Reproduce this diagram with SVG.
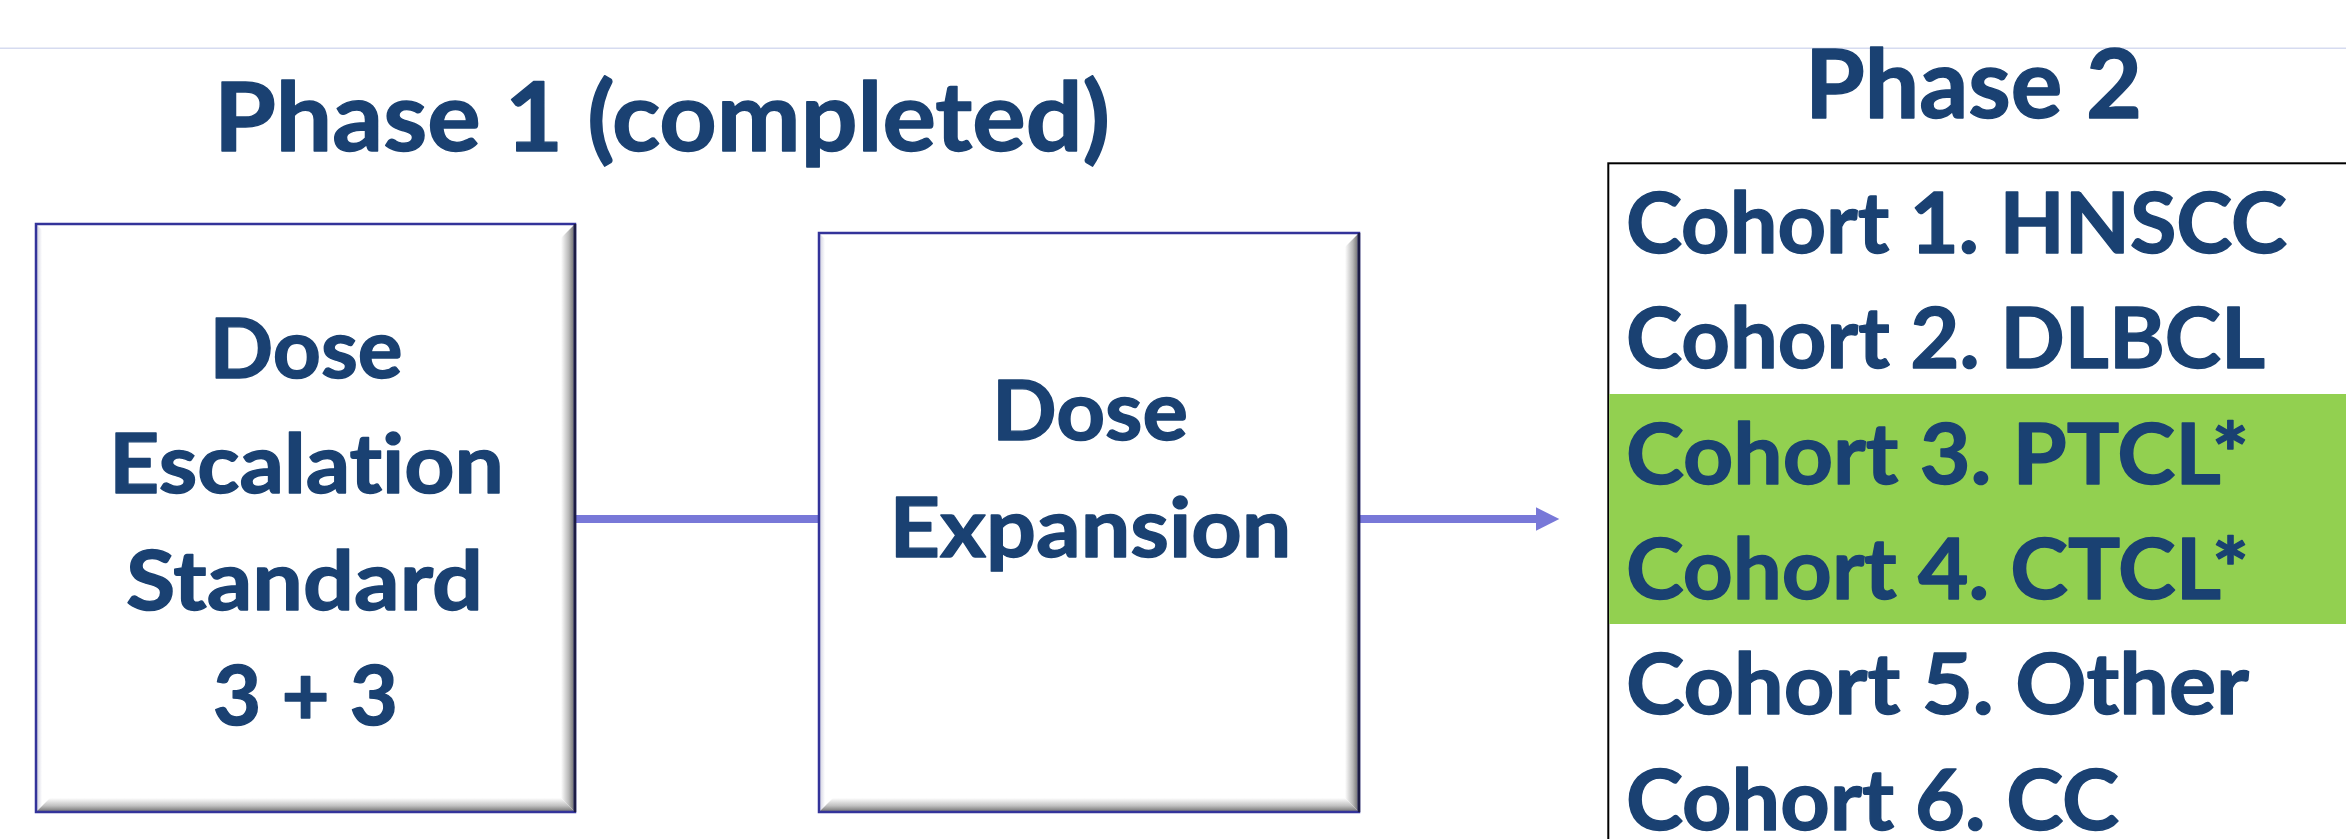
<svg xmlns="http://www.w3.org/2000/svg" width="2346" height="839" viewBox="0 0 2346 839">
<style>
  .t { font-family: Lato, "Liberation Sans", sans-serif; font-weight: 700; fill: #1a4172; stroke: #1a4172; stroke-width: 1.4; stroke-linejoin: round; font-variant-ligatures: none; font-feature-settings: "liga" 0, "clig" 0; }
  .title { font-size: 95px; }
  .box-text { font-size: 82px; text-anchor: middle; }
  .cohort { font-size: 84px; }
  .box-fill { fill: #ffffff; stroke: none; }
  .box-edge { fill: none; stroke: #33339a; stroke-width: 2.5; }
  .box-dark { stroke: #1c1c44; stroke-width: 2.5; }
  .bevR { fill: url(#gradR); }
  .bevB { fill: url(#gradB); }
  .bevL { fill: url(#gradL); }
  .conn { stroke: #7878d8; stroke-width: 8; fill: none; }
</style>
<defs>
  <linearGradient id="gradR" x1="0" y1="0" x2="1" y2="0">
    <stop offset="0" stop-color="#ffffff"/>
    <stop offset="0.6" stop-color="#b8b8b8"/>
    <stop offset="1" stop-color="#707070"/>
  </linearGradient>
  <linearGradient id="gradB" x1="0" y1="0" x2="0" y2="1">
    <stop offset="0" stop-color="#ffffff"/>
    <stop offset="0.6" stop-color="#c0c0c0"/>
    <stop offset="1" stop-color="#7a7a7a"/>
  </linearGradient>
  <linearGradient id="gradL" x1="0" y1="0" x2="1" y2="0">
    <stop offset="0" stop-color="#d4d4e2"/>
    <stop offset="1" stop-color="#ffffff"/>
  </linearGradient>
  <marker id="arrow" markerUnits="userSpaceOnUse" markerWidth="24" markerHeight="24" refX="0" refY="11.7" orient="auto">
    <path d="M0,0 L23.3,11.7 L0,23.4 z" fill="#7878d8"/>
  </marker>
</defs>

<rect x="0" y="0" width="2346" height="839" fill="#ffffff"/>
<line x1="0" y1="48.3" x2="2346" y2="48.3" stroke="#d6dbf0" stroke-width="1.5"/>

<g id="title-phase1">
  <text class="t title" x="214" y="151" textLength="896" lengthAdjust="spacingAndGlyphs">Phase 1 (completed)</text>
</g>
<g id="title-phase2">
  <text class="t title" x="1973.5" y="118.3" text-anchor="middle" textLength="337" lengthAdjust="spacingAndGlyphs">Phase 2</text>
</g>

<g id="connectors">
  <line class="conn" x1="575" y1="519" x2="820" y2="519"/>
  <line class="conn" x1="1358" y1="519" x2="1536" y2="519" marker-end="url(#arrow)"/>
</g>

<g id="dose-escalation">
  <rect class="box-fill" x="36" y="224" width="539" height="588"/>
  <polygon class="bevL" points="37,225 42,230 42,806 37,811"/>
  <polygon class="bevR" points="561,238 574,225 574,811 561,798"/>
  <polygon class="bevB" points="37,811 50,798 561,798 574,811"/>
  <rect class="box-edge" x="36" y="224" width="539" height="588"/>
  <line class="box-dark" x1="575" y1="224" x2="575" y2="812"/>
  <text class="t box-text" x="306" y="378" textLength="193" lengthAdjust="spacingAndGlyphs">Dose</text>
  <text class="t box-text" x="306.5" y="493" textLength="395" lengthAdjust="spacingAndGlyphs">Escalation</text>
  <text class="t box-text" x="304.5" y="609.5" textLength="357" lengthAdjust="spacingAndGlyphs">Standard</text>
  <text class="t box-text" x="305.5" y="724.5" textLength="185" lengthAdjust="spacingAndGlyphs">3 + 3</text>
</g>

<g id="dose-expansion">
  <rect class="box-fill" x="819" y="233" width="540" height="579"/>
  <polygon class="bevL" points="820,234 825,239 825,806 820,811"/>
  <polygon class="bevR" points="1345,247 1358,234 1358,811 1345,798"/>
  <polygon class="bevB" points="820,811 833,798 1345,798 1358,811"/>
  <rect class="box-edge" x="819" y="233" width="540" height="579"/>
  <line class="box-dark" x1="1359" y1="233" x2="1359" y2="812"/>
  <text class="t box-text" x="1090" y="440" textLength="196" lengthAdjust="spacingAndGlyphs">Dose</text>
  <text class="t box-text" x="1090.5" y="556.5" textLength="402" lengthAdjust="spacingAndGlyphs">Expansion</text>
</g>

<g id="phase2-cohorts">
  <rect x="1608.3" y="163.3" width="800" height="800" fill="#ffffff" stroke="#000000" stroke-width="2"/>
  <rect x="1609.3" y="394" width="740" height="230" fill="#92d050"/>
  <text class="t cohort" x="1626" y="253.3" textLength="661" lengthAdjust="spacingAndGlyphs">Cohort 1. HNSCC</text>
  <text class="t cohort" x="1626" y="368.3" textLength="639" lengthAdjust="spacingAndGlyphs">Cohort 2. DLBCL</text>
  <text class="t cohort" x="1626" y="484" textLength="623" lengthAdjust="spacingAndGlyphs">Cohort 3. PTCL*</text>
  <text class="t cohort" x="1626" y="599" textLength="623" lengthAdjust="spacingAndGlyphs">Cohort 4. CTCL*</text>
  <text class="t cohort" x="1626" y="714.3" textLength="623" lengthAdjust="spacingAndGlyphs">Cohort 5. Other</text>
  <text class="t cohort" x="1626" y="830" textLength="493" lengthAdjust="spacingAndGlyphs">Cohort 6. CC</text>
</g>
</svg>
